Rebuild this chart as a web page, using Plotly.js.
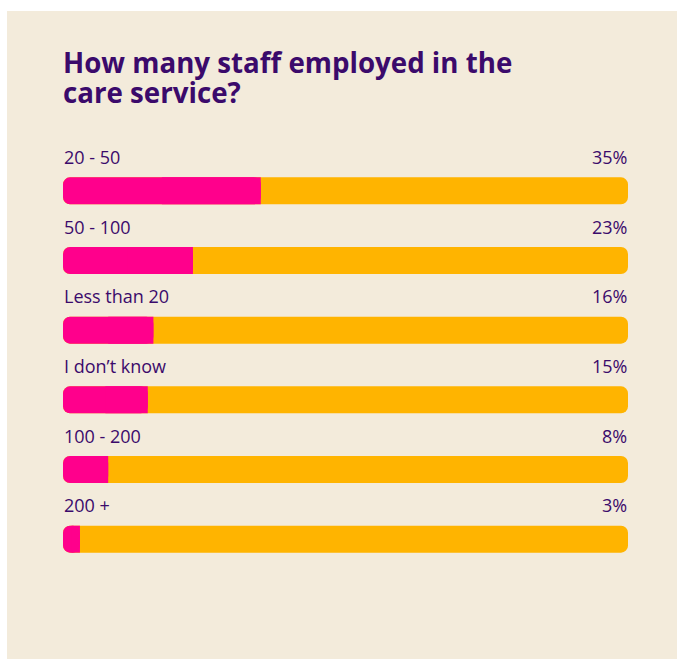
<!DOCTYPE html>
<html>
<head>
<meta charset="utf-8">
<script src="https://cdn.plot.ly/plotly-3.0.1.min.js"></script>
<style>
  html, body { margin: 0; padding: 0; background: #ffffff; }
  #chart { position: absolute; left: 7px; top: 11px; width: 670px; height: 648px; }
</style>
</head>
<body>
<div id="chart"></div>
<script>
const categories = ["20 - 50", "50 - 100", "Less than 20", "I don\u2019t know", "100 - 200", "200 +"];
const values = [35, 23, 16, 15, 8, 3];
const totals = [100, 100, 100, 100, 100, 100];
const valueLabels = ["35%", "23%", "16%", "15%", "8%", "3%"];
const titleLine1 = "How many staff employed in the";
const titleLine2 = "care service?";

const PURPLE = "#3b0a6b";
const PINK = "#ff008c";
const ORANGE = "#ffb400";
const BEIGE = "#f3ebdb";
const FONT = "'Open Sans', Lato, sans-serif";
const BW = 0.387;
const R = 7;

const zeros = totals.map(() => 0);
const traces = [
  // orange full bar (floating from 0 so both ends are rounded)
  { type: "bar", orientation: "h", y: categories, base: zeros, x: totals, width: BW,
    marker: { color: ORANGE, cornerradius: R, line: { width: 0 } }, hoverinfo: "skip" },
  // pink share, rounded both ends
  { type: "bar", orientation: "h", y: categories, base: zeros, x: values, width: BW,
    marker: { color: PINK, cornerradius: R, line: { width: 0 } }, hoverinfo: "skip" },
  // square off the right end of the pink share
  { type: "bar", orientation: "h", y: categories, base: values.map(v => v / 2), x: values.map(v => v / 2), width: BW,
    marker: { color: PINK, cornerradius: 0, line: { width: 0 } }, hoverinfo: "skip" }
];

const annotations = [];
categories.forEach((c, i) => {
  annotations.push({ x: 0, y: c, xref: "x", yref: "y", text: c, showarrow: false,
    xanchor: "left", yanchor: "middle", yshift: 34, xshift: -1,
    font: { family: FONT, size: 18, weight: 500, color: PURPLE } });
  annotations.push({ x: 100, y: c, xref: "x", yref: "y", text: valueLabels[i], showarrow: false,
    xanchor: "right", yanchor: "middle", yshift: 34, xshift: 1,
    font: { family: FONT, size: 18, weight: 500, color: PURPLE } });
});
const plotH = 648 - 144.65 - 85.15;
annotations.push({ x: 0, xref: "paper", y: 1 + (144.65 - 81) / plotH, yref: "paper", text: "<b>" + titleLine2 + "</b>",
  showarrow: false, xanchor: "left", yanchor: "middle", xshift: -2,
  font: { family: FONT, size: 27.7, color: PURPLE } });

const layout = {
  width: 670, height: 648,
  paper_bgcolor: BEIGE, plot_bgcolor: BEIGE,
  margin: { l: 56, r: 49, t: 144.65, b: 85.15 },
  barmode: "overlay",
  showlegend: false,
  title: { text: "<b>" + titleLine1 + "</b>", x: 0, xref: "paper", xanchor: "left",
    y: 1 - 52 / 648, yref: "container", yanchor: "middle",
    font: { family: FONT, size: 27.7, color: PURPLE } },
  xaxis: { range: [0, 100], visible: false, fixedrange: true },
  yaxis: { type: "category", categoryarray: categories, range: [5.5, -0.5], visible: false, fixedrange: true },
  annotations: annotations
};

Plotly.newPlot("chart", traces, layout, { displayModeBar: false, staticPlot: true });
</script>
</body>
</html>
